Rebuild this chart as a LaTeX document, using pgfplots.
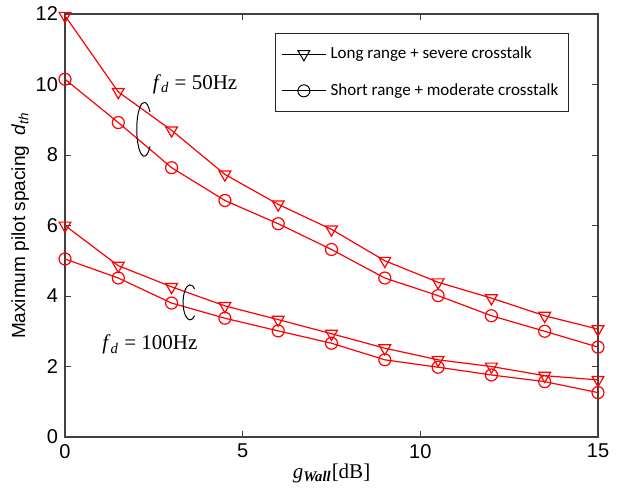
\documentclass[border=0pt]{standalone}
\usepackage{fontspec}
\setmainfont{Liberation Sans}
\newfontfamily\legfont{Carlito}
\newfontfamily\timesf{Liberation Serif}
\usepackage{pgfplots}
\pgfplotsset{compat=1.18}

\begin{document}
\begin{tikzpicture}
\begin{axis}[
    scale only axis,
    width=266.5pt, height=211.5pt,
    xmin=0, xmax=15, ymin=0, ymax=12,
    xtick={0,5,10,15},
    ytick={0,2,4,6,8,10,12},
    tick align=inside,
    major tick length=3pt,
    axis line style={black!75, line width=0.6pt},
    tick style={black!75, line width=0.5pt},
    /pgf/number format/assume math mode=true,
    tick label style={font=\fontsize{10}{11}\selectfont},
    xlabel={{\timesf\fontsize{10.5}{12}\selectfont\textit{g}\textsubscript{\textbf{\textit{Wall}}}[dB]}},
    xlabel style={yshift=4pt},
    ylabel={\fontsize{9.5}{11}\selectfont Maximum pilot spacing\ \ \textit{d}\textsubscript{\textit{th}}},
    ylabel style={yshift=-3.5pt},
    legend style={at={(0.9455,0.955)}, anchor=north east,
        font=\legfont\fontsize{8.5}{10}\selectfont,
        draw=black!85, line width=0.6pt,
        row sep=7pt, inner xsep=3pt, inner ysep=4.5pt},
    legend cell align=left,
    legend image code/.code={
        \draw[mark repeat=2, mark phase=2, line width=0.5pt]
        plot coordinates {(0cm,0cm) (0.39cm,0cm) (0.78cm,0cm)};},
]
\addlegendimage{black, mark=triangle, mark size=3.4pt, mark options={rotate=180}}
\addlegendentry{Long range + severe crosstalk}
\addlegendimage{black, mark=o, mark size=3pt}
\addlegendentry{Short range + moderate crosstalk}

% f_d = 50 Hz
\addplot[red, line width=0.6pt, mark=triangle, mark size=3.4pt, mark options={rotate=180}, forget plot] coordinates {
    (0,11.95) (1.5,9.79) (3,8.70) (4.5,7.45) (6,6.60) (7.5,5.89)
    (9,5.00) (10.5,4.39) (12,3.94) (13.5,3.44) (15,3.06)};
\addplot[red, line width=0.6pt, mark=o, mark size=3pt, forget plot] coordinates {
    (0,10.15) (1.5,8.92) (3,7.64) (4.5,6.71) (6,6.05) (7.5,5.32)
    (9,4.51) (10.5,4.01) (12,3.44) (13.5,3.00) (15,2.55)};
% f_d = 100 Hz
\addplot[red, line width=0.6pt, mark=triangle, mark size=3.4pt, mark options={rotate=180}, forget plot] coordinates {
    (0,6.00) (1.5,4.86) (3,4.26) (4.5,3.72) (6,3.33) (7.5,2.93)
    (9,2.52) (10.5,2.19) (12,2.00) (13.5,1.74) (15,1.62)};
\addplot[red, line width=0.6pt, mark=o, mark size=3pt, forget plot] coordinates {
    (0,5.05) (1.5,4.51) (3,3.80) (4.5,3.37) (6,3.01) (7.5,2.66)
    (9,2.19) (10.5,1.98) (12,1.76) (13.5,1.57) (15,1.26)};

\draw[black, line width=0.5pt] (axis cs:2.23,8.73) ++(2.87pt,8.68pt)
    arc[start angle=40, end angle=320, x radius=3.75pt, y radius=13.5pt];
\draw[black, line width=0.5pt] (axis cs:3.52,3.82) ++(2.25pt,6.70pt)
    arc[start angle=50, end angle=310, x radius=3.5pt, y radius=8.75pt];

\node[font=\timesf\fontsize{10.5}{12}\selectfont] at (axis cs:3.66,10.01)
    {\textit{f}\textsubscript{\textit{d}} = 50Hz};
\node[font=\timesf\fontsize{10.5}{12}\selectfont] at (axis cs:2.39,2.62)
    {\textit{f}\textsubscript{\textit{d}} = 100Hz};
\end{axis}
\pgfresetboundingbox
\path[use as bounding box] ([shift={(-32.5pt,-28.5pt)}]current axis.south west)
    rectangle ([shift={(13.5pt,7pt)}]current axis.north east);
\end{tikzpicture}
\end{document}
